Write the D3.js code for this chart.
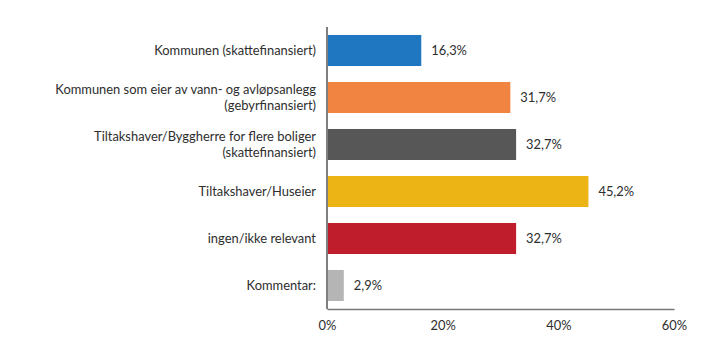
<!DOCTYPE html>
<html><head><meta charset="utf-8">
<script src="https://cdn.jsdelivr.net/npm/d3@7"></script>
<style>body{margin:0;background:#fff;} svg{display:block;}</style>
</head><body>
<svg id="c" width="719" height="363"></svg>
<script>
const categories = [
  ["Kommunen (skattefinansiert)"],
  ["Kommunen som eier av vann- og avløpsanlegg", "(gebyrfinansiert)"],
  ["Tiltakshaver/Byggherre for flere boliger", "(skattefinansiert)"],
  ["Tiltakshaver/Huseier"],
  ["ingen/ikke relevant"],
  ["Kommentar:"]
];
const values = [16.3, 31.7, 32.7, 45.2, 32.7, 2.9];
const valueLabels = ["16,3%", "31,7%", "32,7%", "45,2%", "32,7%", "2,9%"];
const colors = ["#1f77c1", "#f08440", "#575757", "#ecb414", "#c01d2c", "#b5b5b5"];
const ticks = [0, 20, 40, 60];

const svg = d3.select("#c");
const m = {l: 327, r: 45, t: 27, b: 54};
const W = 719, H = 363;
const font = "Lato, sans-serif";
const fs = 12.9;
const textColor = "#2e2e2e";

const x = d3.scaleLinear().domain([0, 60]).range([m.l, W - m.r]);
const y = d3.scaleBand().domain(d3.range(values.length)).range([m.t, H - m.b]).paddingInner(0.34).paddingOuter(0.17);

const g = svg.append("g");
g.selectAll("rect.bar").data(values).join("rect")
  .attr("x", x(0) + 1).attr("y", (d, i) => y(i))
  .attr("width", d => x(d) - x(0) - 1).attr("height", y.bandwidth())
  .attr("fill", (d, i) => colors[i]);

g.selectAll("text.val").data(values).join("text")
  .attr("x", d => x(d) + 10).attr("y", (d, i) => y(i) + y.bandwidth() / 2)
  .attr("dy", "0.35em").attr("font-family", font).attr("font-size", fs)
  .attr("fill", textColor).text((d, i) => valueLabels[i]);

const lab = g.selectAll("text.cat").data(categories).join("text")
  .attr("text-anchor", "end").attr("font-family", font).attr("font-size", fs)
  .attr("fill", textColor);
lab.each(function(lines, i) {
  const cy = y(i) + y.bandwidth() / 2;
  const n = lines.length;
  d3.select(this).selectAll("tspan").data(lines).join("tspan")
    .attr("x", x(0) - 11)
    .attr("y", (l, j) => cy + (j - (n - 1) / 2) * 15.5)
    .attr("dy", "0.35em").text(l => l);
});

const xAxis = d3.axisBottom(x).tickValues(ticks).tickSize(0).tickPadding(12).tickFormat(d => d + "%");
const ax = svg.append("g").attr("transform", `translate(0,${H - m.b})`).call(xAxis);
ax.select(".domain").attr("stroke", "#777").attr("stroke-width", 1.5);
ax.selectAll("text").attr("font-family", font).attr("font-size", fs).attr("fill", textColor);

svg.append("line").attr("x1", x(0)).attr("x2", x(0)).attr("y1", m.t).attr("y2", H - m.b)
  .attr("stroke", "#555").attr("stroke-width", 1.5);
</script>
</body></html>
